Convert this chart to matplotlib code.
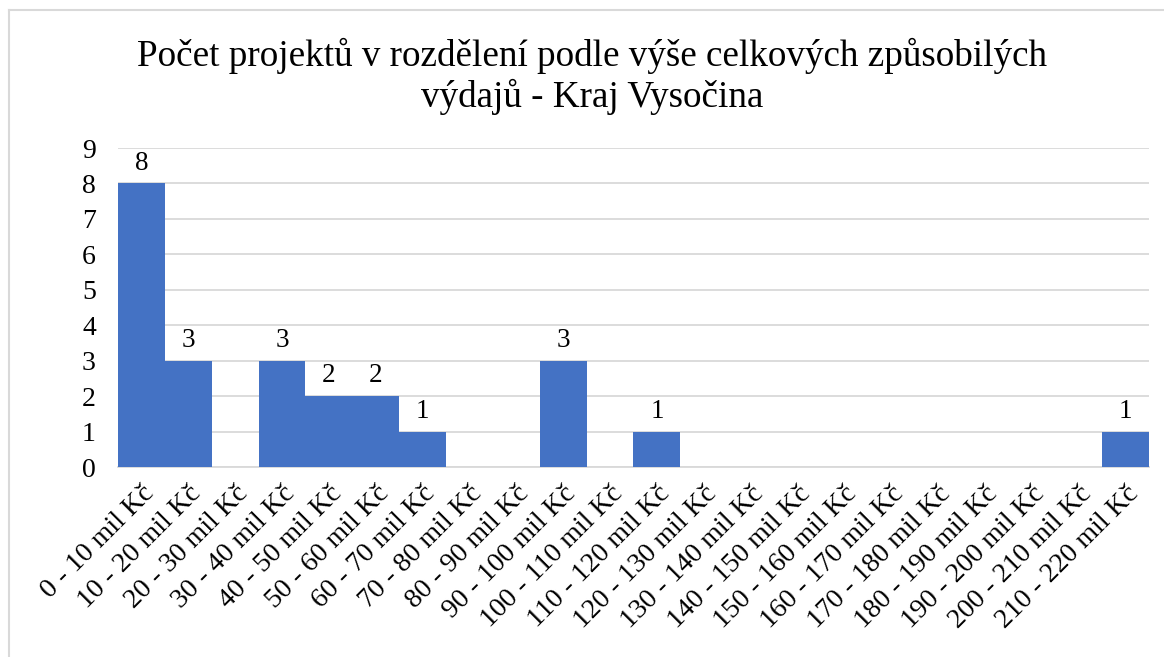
import matplotlib
matplotlib.use("Agg")
import matplotlib.pyplot as plt
from matplotlib.lines import Line2D

categories = ["0 - 10 mil Kč", "10 - 20 mil Kč", "20 - 30 mil Kč", "30 - 40 mil Kč",
              "40 - 50 mil Kč", "50 - 60 mil Kč", "60 - 70 mil Kč", "70 - 80 mil Kč",
              "80 - 90 mil Kč", "90 - 100 mil Kč", "100 - 110 mil Kč", "110 - 120 mil Kč",
              "120 - 130 mil Kč", "130 - 140 mil Kč", "140 - 150 mil Kč", "150 - 160 mil Kč",
              "160 - 170 mil Kč", "170 - 180 mil Kč", "180 - 190 mil Kč", "190 - 200 mil Kč",
              "200 - 210 mil Kč", "210 - 220 mil Kč"]
counts = [8, 3, 0, 3, 2, 2, 1, 0, 0, 3, 0, 1, 0, 0, 0, 0, 0, 0, 0, 0, 0, 1]
yticks = list(range(0, 10))
title = "Počet projektů v rozdělení podle výše celkových způsobilých\nvýdajů - Kraj Vysočina"

plt.rcParams['font.family'] = ['Liberation Serif', 'DejaVu Serif']

W, H = 1164, 657
fig = plt.figure(figsize=(W / 100, H / 100), dpi=100)
ax = fig.add_axes([0.1014, 0.289, 0.8856, 0.4857])

x = list(range(len(categories)))
ax.bar(x, counts, width=1.0, color="#4472C4", zorder=3)
for xi, v in zip(x, counts):
    if v > 0:
        ax.text(xi, v + 0.22, str(v), ha="center", va="bottom", fontsize=19.5, color="black")

ax.set_xlim(-0.5, len(categories) - 0.5)
ax.set_ylim(0, 9)
ax.set_yticks(yticks)
ax.set_yticklabels([str(t) for t in yticks], fontsize=20)
ax.yaxis.grid(True, color="#d9d9d9", linewidth=1.3, zorder=0)
ax.set_xticks(x)
ax.set_xticklabels(categories, rotation=45, ha="right", rotation_mode="anchor", fontsize=20)
ax.tick_params(axis="both", length=0)
ax.tick_params(axis="y", pad=16)
ax.tick_params(axis="x", pad=10)
for s in ["top", "right", "left"]:
    ax.spines[s].set_visible(False)
ax.spines["bottom"].set_color("#d9d9d9")
ax.spines["bottom"].set_linewidth(1.3)

fig.text(0.509, 0.942, title, ha="center", va="top", fontsize=26.7, linespacing=1.15)

# chart area border (left and top edges visible in the reference)
bx, by = 8.5 / W, 1 - 9.5 / H
fig.add_artist(Line2D([bx, bx], [0, by], transform=fig.transFigure, color="#d9d9d9", linewidth=1.5))
fig.add_artist(Line2D([bx, 1], [by, by], transform=fig.transFigure, color="#d9d9d9", linewidth=1.5))

fig.savefig("out.png", dpi=100)
